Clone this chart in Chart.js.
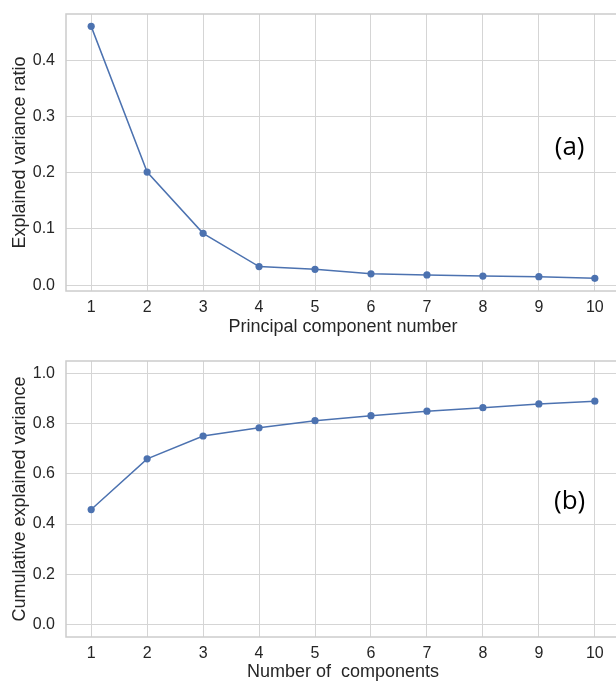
<!DOCTYPE html>
<html>
<head>
<meta charset="utf-8">
<script src="https://cdn.jsdelivr.net/npm/chart.js@4.4.0/dist/chart.umd.min.js"></script>
<style>
  html, body { margin: 0; padding: 0; background: #fff; overflow: hidden; }
  #wrap { position: relative; width: 616px; height: 681px; overflow: hidden; }
  canvas { position: absolute; left: 0; }
  #chartA { top: 0; }
  #chartB { top: 340px; }
</style>
</head>
<body>
<div id="wrap">
  <canvas id="chartA" width="624" height="340"></canvas>
  <canvas id="chartB" width="624" height="341"></canvas>
</div>
<script>
// Datos
const components = [1, 2, 3, 4, 5, 6, 7, 8, 9, 10];
const varianceRatio = [0.460, 0.201, 0.092, 0.033, 0.028, 0.020, 0.018, 0.016, 0.015, 0.012];
const cumulativeVariance = [0.458, 0.660, 0.751, 0.784, 0.812, 0.832, 0.850, 0.864, 0.879, 0.890];
const xTicks = [1, 2, 3, 4, 5, 6, 7, 8, 9, 10];
const yTicksA = [0.0, 0.1, 0.2, 0.3, 0.4];
const yTicksB = [0.0, 0.2, 0.4, 0.6, 0.8, 1.0];

// Paleta estilo seaborn whitegrid
const colors = {
  line: '#4c72b0',
  grid: '#d5d5d5',
  frame: '#cccccc',
  text: '#262626'
};
const fontFamily = 'Liberation Sans, Arial, sans-serif';
const tickFont = { family: fontFamily, size: 16 };

// Marco completo alrededor del area de trazado + etiqueta (a)/(b)
const framePlugin = {
  id: 'frame',
  afterDraw(chart, args, opts) {
    const { ctx, chartArea: a, scales } = chart;
    ctx.save();
    ctx.strokeStyle = colors.frame;
    ctx.lineWidth = 1.5;
    ctx.strokeRect(a.left, a.top, a.right - a.left, a.bottom - a.top);
    if (opts.label) {
      ctx.fillStyle = '#000';
      ctx.font = '26px "Open Sans", sans-serif';
      ctx.textAlign = 'center';
      ctx.textBaseline = 'middle';
      ctx.fillText(opts.label, scales.x.getPixelForValue(opts.at[0]), scales.y.getPixelForValue(opts.at[1]));
    }
    ctx.restore();
  }
};

function makeChart(id, values, yTicks, yMin, yMax, xTitle, yTitle, label, labelAt, padTop, xHeight, xTitleFont, xTitlePad) {
  return new Chart(document.getElementById(id), {
    type: 'line',
    data: {
      datasets: [{
        data: components.map((c, i) => ({ x: c, y: values[i] })),
        borderColor: colors.line,
        backgroundColor: colors.line,
        borderWidth: 1.5,
        pointRadius: 3.6,
        pointBorderWidth: 0,
        tension: 0
      }]
    },
    options: {
      responsive: false,
      animation: false,
      devicePixelRatio: 1,
      layout: { padding: { top: padTop, right: 1, left: 0, bottom: 0 } },
      plugins: {
        legend: { display: false },
        tooltip: { enabled: false },
        frame: { label: label, at: labelAt }
      },
      scales: {
        x: {
          type: 'linear',
          min: 0.55,
          max: 10.45,
          afterBuildTicks: s => { s.ticks = xTicks.map(v => ({ value: v })); },
          afterFit: s => { s.height = xHeight; s.paddingLeft = 0; s.paddingRight = 0; },
          grid: { color: colors.grid, lineWidth: 1, drawTicks: false },
          border: { display: false },
          ticks: { color: colors.text, font: tickFont, padding: 7, maxRotation: 0, callback: v => String(v) },
          title: { display: true, text: xTitle, color: colors.text, font: xTitleFont, padding: { top: 0, bottom: xTitlePad } }
        },
        y: {
          type: 'linear',
          min: yMin,
          max: yMax,
          afterBuildTicks: s => { s.ticks = yTicks.map(v => ({ value: v })); },
          afterFit: s => { s.width = 66; s.paddingTop = 0; s.paddingBottom = 0; },
          grid: { color: colors.grid, lineWidth: 1, drawTicks: false },
          border: { display: false },
          ticks: { color: colors.text, font: tickFont, padding: 11, callback: v => Number(v).toFixed(1) },
          title: { display: true, text: yTitle, color: colors.text, font: { family: fontFamily, size: 18, lineHeight: 1.2 }, padding: { top: 9, bottom: 0 } }
        }
      }
    },
    plugins: [framePlugin]
  });
}

makeChart('chartA', varianceRatio, yTicksA, -0.0105, 0.482,
  'Principal component number', 'Explained variance ratio',
  '(a)', [9.55, 0.245], 14, 49,
  { family: fontFamily, size: 18, lineHeight: 1.2 }, 2);

makeChart('chartB', cumulativeVariance, yTicksB, -0.05, 1.05,
  'Number of  components', 'Cumulative explained variance',
  '(b)', [9.55, 0.49], 21, 44,
  { family: fontFamily, size: 18, lineHeight: 1.0 }, 0);
</script>
</body>
</html>
